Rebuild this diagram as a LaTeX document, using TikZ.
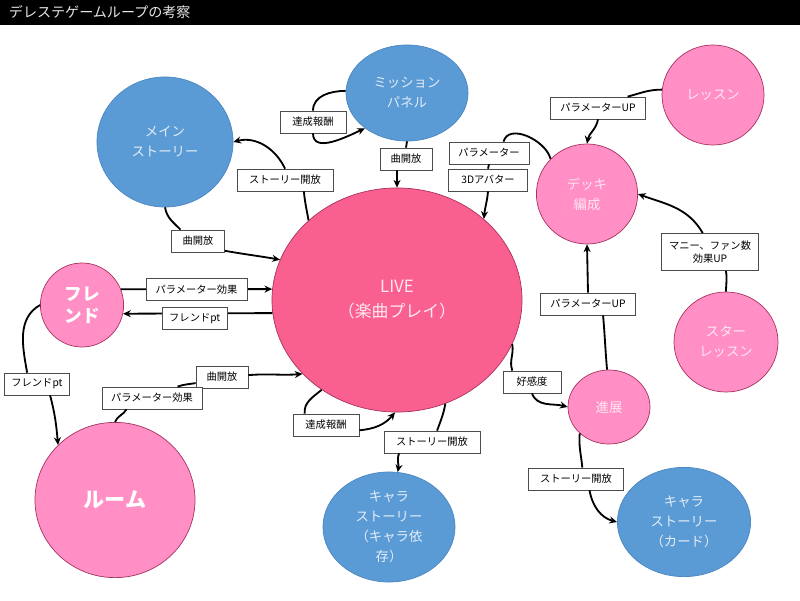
\documentclass[tikz,border=0pt]{standalone}
\usepackage{fontspec}
\setmainfont{Noto Sans CJK JP}
\usetikzlibrary{shapes.geometric,arrows.meta}
\definecolor{liveRed}{HTML}{F9608F}
\definecolor{softPink}{HTML}{FF8FC4}
\definecolor{skyBlue}{HTML}{5B9BD5}
\definecolor{pinkEdge}{HTML}{A8325E}
\definecolor{blueEdge}{HTML}{4A86C0}
\definecolor{pinkText}{HTML}{FFE6F2}
\definecolor{blueText}{HTML}{E2ECF7}
\definecolor{titleGray}{HTML}{E6E6E6}

\begin{document}
\begin{tikzpicture}[x=0.025cm, y=0.025cm,
    stage/.style ={ellipse, draw=pinkEdge, line width=0.5pt, inner sep=0pt, align=center,
                   font=\fontsize{9.5}{14.2}\selectfont},
    pinkstage/.style ={stage, fill=softPink, text=pinkText},
    bluestage/.style ={stage, fill=skyBlue, draw=blueEdge, text=blueText},
    tag/.style ={rectangle, draw=black!70, fill=white, text=black, line width=0.5pt,
                 inner xsep=2pt, inner ysep=2pt, minimum height=0.55cm, align=center,
                 font=\fontsize{7.3}{9.5}\selectfont},
    link/.style ={line width=1.3pt, -{Stealth[length=5.5pt,width=5pt]}}]
   \useasboundingbox (0,0) rectangle (800,600);
   \fill[black] (0,575) rectangle (800,600);
   \node[anchor=west, text=titleGray, font=\fontsize{10}{12}\selectfont] (title) at (4,588) {デレステゲームループの考察};

   % stages of the loop
   \node[pinkstage, fill=liveRed, minimum width=6.25cm, minimum height=5.6cm,
         font=\fontsize{12}{17.8}\selectfont] (live) at (397,300) {LIVE\\（楽曲プレイ）};
   \node[bluestage, minimum width=3.05cm, minimum height=2.4cm] (mission) at (407,507) {ミッション\\パネル};
   \node[bluestage, minimum width=3.4cm, minimum height=3.25cm] (mainst) at (165,458) {メイン\\ストーリー};
   \node[pinkstage, minimum width=2.08cm, minimum height=2.1cm, text=white,
         font=\bfseries\fontsize{12.5}{15.6}\selectfont] (friend) at (82,295) {フレ\\ンド};
   \node[pinkstage, minimum width=4cm, minimum height=3.88cm, text=white,
         font=\bfseries\fontsize{15}{18}\selectfont] (room) at (115,100) {ルーム};
   \node[bluestage, minimum width=3.3cm, minimum height=2.75cm] (chara) at (389,73) {キャラ\\ストーリー\\（キャラ依\\存）};
   \node[pinkstage, minimum width=2.53cm, minimum height=2.5cm] (deck) at (587,406) {デッキ\\編成};
   \node[pinkstage, minimum width=2.55cm, minimum height=2.5cm] (lesson) at (713,505) {レッスン};
   \node[pinkstage, minimum width=2.6cm, minimum height=2.5cm] (star) at (726,258) {スター\\レッスン};
   \node[pinkstage, minimum width=2.05cm, minimum height=1.85cm] (progress) at (609,193) {進展};
   \node[bluestage, minimum width=3.33cm, minimum height=2.73cm] (card) at (684,78) {キャラ\\ストーリー\\（カード）};

   % labels
   \node[tag, minimum width=1.65cm] (lMisRew) at (313,478) {達成報酬};
   \node[tag, minimum width=2.4cm] (lMainOpen) at (285,420) {ストーリー開放};
   \node[tag, minimum width=1.3cm] (lMisSong) at (406,441) {曲開放};
   \node[tag, minimum width=2.0cm] (lParam) at (489,447) {パラメーター};
   \node[tag, minimum width=1.98cm] (lAvatar) at (488,420) {3Dアバター};
   \node[tag, minimum width=1.33cm] (lMainSong) at (198,359) {曲開放};
   \node[tag, minimum width=1.63cm] (lRoomPt) at (37,216) {フレンドpt};
   \node[tag, minimum width=1.3cm] (lRoomSong) at (222,223) {曲開放};
   \node[tag, minimum width=2.5cm] (lRoomEff) at (152,202) {パラメーター効果};
   \node[tag, minimum width=1.65cm] (lLiveRew) at (326,175) {達成報酬};
   \node[tag, minimum width=2.4cm] (lCharaOpen) at (432,158) {ストーリー開放};
   \node[tag, minimum width=1.45cm] (lLike) at (532,218) {好感度};
   \node[tag, minimum width=2.38cm] (lCardOpen) at (576,121) {ストーリー開放};
   \node[tag, minimum width=2.38cm] (lLesUp) at (598,492) {パラメーターUP};
   \node[tag, minimum width=2.43cm, minimum height=0.93cm] (lStarUp) at (710,348) {マニー、ファン数\\効果UP};
   \node[tag, minimum width=2.38cm] (lProgUp) at (588,296) {パラメーターUP};

   % connectors
   \draw[link] (mission.178) to[out=180,in=90] (lMisRew.north)
               (lMisRew.south) to[out=-90,in=205] (mission.220);
   \draw[link] (mission.south) -- (lMisSong.north) (lMisSong.south -| live.north) -- (live.north);
   \draw[link] (live.138) to[out=100,in=-85] (lMainOpen.-31) (lMainOpen.north) to[out=115,in=15] (mainst.east);
   \draw[link] (mainst.south) to[out=-80,in=135] (lMainSong.147) (lMainSong.-20) to[out=-10,in=170] (live.161);
   \draw[link] (friend.22) -- node[tag, minimum width=2.53cm] (lFrEff) {パラメーター効果} (live.175);
   \draw[link] (live.186) -- node[tag, minimum width=1.63cm, yshift=-0.125cm, pos=0.52] (lFrPt) {フレンドpt} (friend.-12);
   \draw[link] (friend.west) to[out=210,in=100] (lRoomPt.131) (lRoomPt.-41) to[out=-75,in=95] (room.136);
   \draw[link] (room.north) to[out=70,in=-120] (lRoomEff.204) (lRoomEff.24) to[out=20,in=190] (lRoomSong.193)
               (lRoomSong.4) to[out=5,in=185] (live.218);
   \draw[link] (live.230) to[out=220,in=95] (lLiveRew.152) (lLiveRew.-9) to[out=5,in=230] (live.269);
   \draw[link] (live.295) to[out=-100,in=70] (lCharaOpen.66) (lCharaOpen.199) to[out=-110,in=80] (chara.81);
   \draw[link] (live.339) to[out=-80,in=110] (lLike.150) (lLike.south) to[out=-70,in=165] (progress.west);
   \draw[link] (progress.222) to[out=-95,in=95] (lCardOpen.61) (lCardOpen.-40) to[out=-80,in=165] (card.west);
   \draw[link] (progress.93) to[out=95,in=-85] (lProgUp.-37) (lProgUp.north) -- (deck.south);
   \draw[link] (lesson.174) to[out=180,in=15] (lLesUp.21) (lLesUp.south) to[out=-100,in=80] (deck.north);
   \draw[link] (star.north) to[out=90,in=-80] (lStarUp.-50) (lStarUp.111) to[out=120,in=-20] (deck.east);
   \draw[link] (deck.136) to[out=105,in=75] (lParam.38) (lParam.south) -- (lAvatar.north)
               (lAvatar.south) to[out=-95,in=85] (live.43);
\end{tikzpicture}
\end{document}
